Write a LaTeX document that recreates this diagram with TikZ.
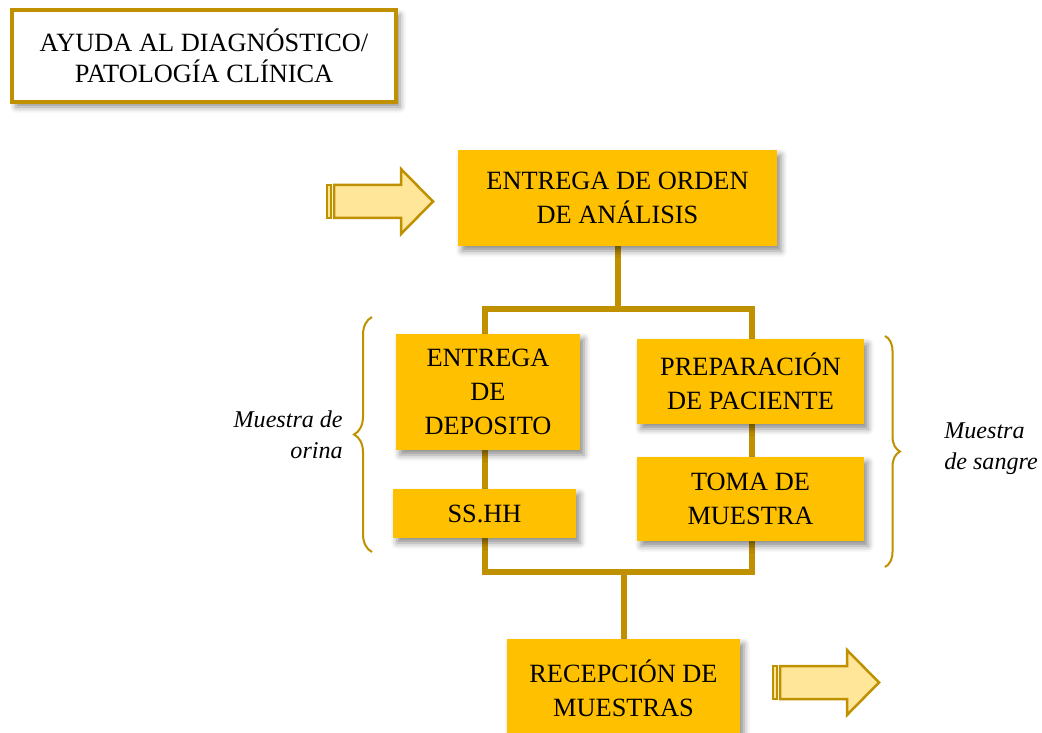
\documentclass[tikz,border=0pt]{standalone}
\usepackage{fontspec}
\setmainfont{Liberation Serif}
\usepackage{tikz}
\usetikzlibrary{shadows.blur, backgrounds, decorations.pathreplacing}
\usepackage{xcolor}

\definecolor{oro}{HTML}{BF9000}
\definecolor{ambar}{HTML}{FFC000}
\definecolor{crema}{HTML}{FFE699}

\tikzset{
    sombra/.style={blur shadow={shadow xshift=0.8mm, shadow yshift=-1mm, shadow blur radius=1.2mm, shadow opacity=45}},
    paso/.style={fill=ambar, text=black, align=center, inner sep=0pt, sombra,
            font=\fontsize{15}{19.5}\selectfont},
    titulo/.style={draw=oro, line width=0.8mm, fill=white, align=center, inner sep=0pt, sombra,
            font=\fontsize{15}{18}\selectfont},
    etiqueta/.style={font=\fontsize{13.7}{17.8}\selectfont\itshape, inner sep=0pt},
    conector/.style={draw=oro, line width=1.2mm},
    llave/.style={draw=oro, line width=0.4mm, decorate},
}

\begin{document}
\begin{tikzpicture}[x=0.2mm, y=-0.2mm]
                \useasboundingbox (0,0) rectangle (1042,733);
                % \draw[step=50, gray, very thin] (0,0) grid (1042,733);

                \node[titulo, minimum width=76.8mm, minimum height=18.4mm] (titulo) at (204,56) {AYUDA AL DIAGNÓSTICO/\\PATOLOGÍA CLÍNICA};

                \node[paso, minimum width=63.8mm, minimum height=19.2mm] (orden) at (617.5,198) {ENTREGA DE ORDEN\\DE ANÁLISIS};
                \node[paso, minimum width=36.8mm, minimum height=23.2mm] (deposito) at (488,392) {ENTREGA\\DE\\DEPOSITO};
                \node[paso, minimum width=36.6mm, minimum height=9.8mm] (sshh) at (484.5,513.5) {SS.HH};
                \node[paso, minimum width=45.4mm, minimum height=17mm] (preparacion) at (750.5,381.5) {PREPARACIÓN\\DE PACIENTE};
                \node[paso, minimum width=45.4mm, minimum height=16.8mm] (toma) at (750.5,499) {TOMA DE\\MUESTRA};
                \node[paso, minimum width=46.6mm, minimum height=19.6mm] (recepcion) at (623.5,688) {RECEPCIÓN DE\\MUESTRAS};

                \node[etiqueta, anchor=east, align=right] (orina) at (343,435) {Muestra de\\orina};
                \node[etiqueta, anchor=west, align=left] (sangre) at (944,449) {Muestra\\de sangre};

                \coordinate (ramaL) at (485,309);
                \coordinate (ramaR) at (752,309);
                \coordinate (unionL) at (485,572);
                \coordinate (unionR) at (752,572);

                \begin{scope}[on background layer]
                    \draw[conector] (orden) -- (orden |- ramaL);
                    \draw[conector] (ramaL) -- (ramaR) -- (unionR) -- (unionL) -- cycle;
                    \draw[conector] (unionL -| recepcion) -- (recepcion);
                \end{scope}

                % llaves
                \draw[llave, decoration={brace, amplitude=3.6mm}] (372,552) -- (372,317);
                \draw[llave, decoration={brace, amplitude=3mm}] (885,336) -- (885,567);

                % flechas de entrada y salida
                \foreach \ax/\ay in {326/169,772/650} {
                        \begin{scope}[shift={(\ax,\ay)}]
                            \draw[oro, fill=crema, line width=0.55mm] (1,16) rectangle (5,49);
                            \draw[oro, fill=crema, line width=0.5mm, line join=miter]
                                (8,16) -- (75,16) -- (75,0) -- (107,32.5) -- (75,65) -- (75,49) -- (8,49) -- cycle;
                        \end{scope}
                    }
            \end{tikzpicture}
\end{document}
